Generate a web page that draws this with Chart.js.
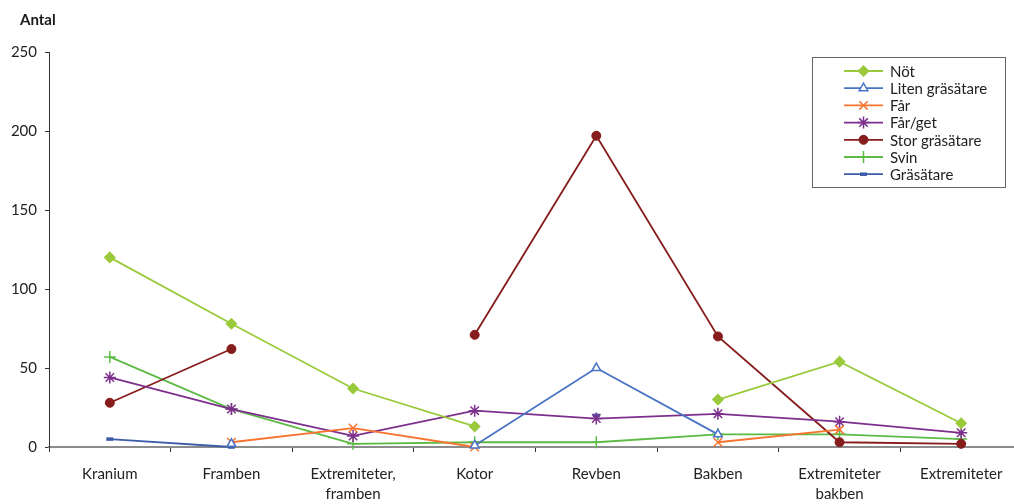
<!DOCTYPE html>
<html lang="sv">
<head>
<meta charset="utf-8">
<script src="https://cdn.jsdelivr.net/npm/chart.js@4/dist/chart.umd.min.js"></script>
<style>
  html, body { margin: 0; padding: 0; background: #fff; overflow: hidden; }
  #wrap { position: relative; width: 1030px; height: 504px; }
</style>
</head>
<body>
<div id="wrap"><canvas id="c"></canvas></div>
<script>
// Skelettdelar (kategorier på x-axeln)
const categories = [
  'Kranium', 'Framben', ['Extremiteter,', 'framben'], 'Kotor',
  'Revben', 'Bakben', ['Extremiteter', 'bakben'], 'Extremiteter'
];

// Antal fragment per djurslag och skelettdel
const not            = [120, 78, 37, 13, null, 30, 54, 15];
const litenGrasatare = [null, 2, null, 1, 50, 8, null, null];
const far            = [null, 3, 12, 0, null, 3, 11, null];
const farGet         = [44, 24, 7, 23, 18, 21, 16, 9];
const storGrasatare  = [28, 62, null, 71, 197, 70, 3, 2];
const svin           = [57, 24, 2, 3, 3, 8, 8, 5];
const grasatare      = [5, 0, null, null, 20, null, null, null];

const yTicks = { min: 0, max: 250, step: 50 };

const FONT = 'Lato, "Open Sans", sans-serif';

function series(label, data, color, style, radius, extra) {
  return Object.assign({
    label, data,
    borderColor: color,
    backgroundColor: color,
    pointBorderColor: color,
    pointBackgroundColor: color,
    pointStyle: style,
    pointRadius: radius,
    pointBorderWidth: 1.5,
    borderWidth: 1.8,
    spanGaps: false,
    tension: 0,
    clip: false
  }, extra || {});
}

const datasets = [
  series('Nöt', not, '#9ACA3C', 'rectRot', 5),
  series('Liten gräsätare', litenGrasatare, '#4A74C4', 'triangle', 5,
         { pointBackgroundColor: '#ffffff' }),
  series('Får', far, '#F7732F', 'crossRot', 6),
  series('Får/get', farGet, '#7D2F8D', 'star', 6),
  series('Stor gräsätare', storGrasatare, '#861C1C', 'circle', 4.5, { pointBorderWidth: 1 }),
  series('Svin', svin, '#5DBA45', 'cross', 6),
  series('Gräsätare', grasatare, '#3C5BA9', 'line', 3.5, { pointBorderWidth: 3.5 })
];

// Boxad förklaring uppe till höger samt axelrubriken "Antal"
const decorations = {
  id: 'decorations',
  afterDraw(chart) {
    const ctx = chart.ctx;
    ctx.save();
    // axelrubrik
    ctx.font = 'bold 15px ' + FONT;
    ctx.fillStyle = '#1a1a1a';
    ctx.textAlign = 'left';
    ctx.textBaseline = 'middle';
    ctx.fillText('Antal', 20, 20);

    // förklaringsruta
    const bx = 812.5, by = 57.5, bw = 193, bh = 130;
    ctx.fillStyle = '#fff';
    ctx.fillRect(bx, by, bw, bh);
    ctx.strokeStyle = '#666';
    ctx.lineWidth = 1;
    ctx.strokeRect(bx, by, bw, bh);

    chart.data.datasets.forEach((ds, i) => {
      const y = 71 + i * 17.2;
      ctx.strokeStyle = ds.borderColor;
      ctx.lineWidth = 1.8;
      ctx.beginPath();
      ctx.moveTo(844, y);
      ctx.lineTo(883, y);
      ctx.stroke();
      ctx.fillStyle = ds.pointBackgroundColor;
      ctx.strokeStyle = ds.pointBorderColor;
      ctx.lineWidth = ds.pointBorderWidth;
      Chart.helpers.drawPoint(ctx, {
        pointStyle: ds.pointStyle,
        radius: ds.pointRadius,
        borderWidth: ds.pointBorderWidth,
        rotation: 0
      }, 863.5, y);
      ctx.font = '15px ' + FONT;
      ctx.fillStyle = '#222';
      ctx.textAlign = 'left';
      ctx.textBaseline = 'middle';
      ctx.fillText(ds.label, 890, y + 1);
    });
    ctx.restore();
  }
};

new Chart(document.getElementById('c'), {
  type: 'line',
  data: { labels: categories, datasets },
  options: {
    responsive: true,
    maintainAspectRatio: false,
    animation: false,
    events: [],
    layout: { padding: { top: 52, right: 8, bottom: 0, left: 0 } },
    plugins: {
      legend: { display: false },
      tooltip: { enabled: false },
      title: { display: false }
    },
    scales: {
      x: {
        type: 'category',
        offset: true,
        grid: {
          offset: true,
          drawOnChartArea: false,
          drawTicks: true,
          tickLength: 5,
          tickColor: '#333'
        },
        border: { display: true, color: '#8C8C8C', width: 2 },
        ticks: {
          color: '#222',
          font: { family: FONT, size: 15, lineHeight: 1.35 },
          padding: 12,
          maxRotation: 0,
          autoSkip: false
        },
        afterFit(scale) { scale.height = 57; }
      },
      y: {
        min: yTicks.min,
        max: yTicks.max,
        grid: {
          drawOnChartArea: false,
          drawTicks: true,
          tickLength: 4,
          tickColor: '#333'
        },
        border: { display: true, color: '#333', width: 1 },
        ticks: {
          stepSize: yTicks.step,
          color: '#222',
          font: { family: FONT, size: 15 },
          padding: 8
        },
        afterFit(scale) { scale.width = 49; }
      }
    }
  },
  plugins: [decorations]
});
</script>
</body>
</html>
